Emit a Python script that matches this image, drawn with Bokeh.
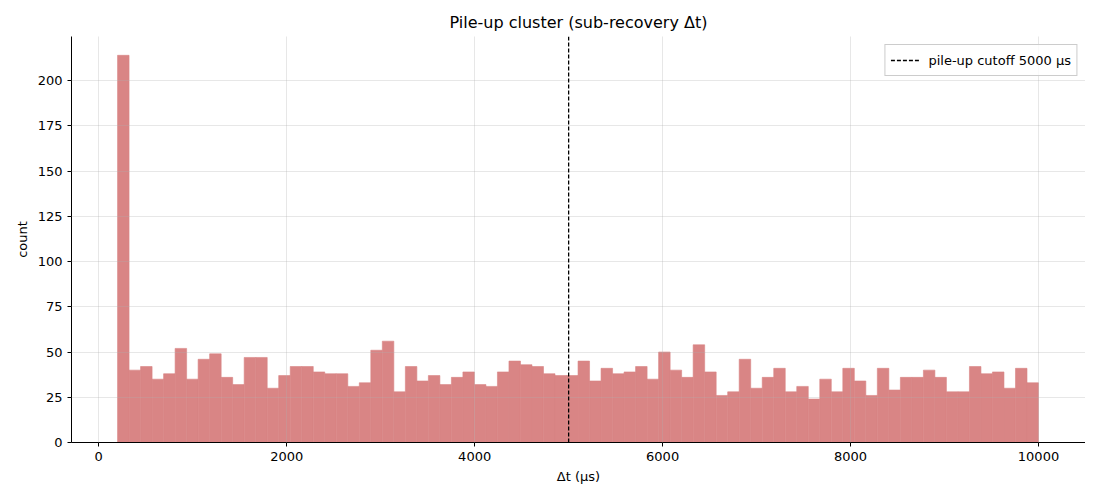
from bokeh.plotting import figure
from bokeh.models import ColumnDataSource, Span, Legend, LegendItem, Range1d, FixedTicker
from bokeh.embed import file_html
from bokeh.resources import INLINE

bin_start = 200.0
bin_width = 122.5
counts = [214, 40, 42, 35, 38, 52, 35, 46, 49, 36, 32, 47, 47, 30, 37, 42, 42, 39, 38, 38,
          31, 33, 51, 56, 28, 42, 34, 37, 32, 36, 39, 32, 31, 39, 45, 43, 42, 38, 37, 37,
          45, 34, 41, 38, 39, 42, 35, 50, 40, 36, 54, 39, 26, 28, 46, 30, 36, 41, 28, 31,
          24, 35, 28, 41, 34, 26, 41, 29, 36, 36, 40, 36, 28, 28, 42, 38, 39, 30, 41, 33]
cutoff = 5000
x_ticks = [0, 2000, 4000, 6000, 8000, 10000]
y_ticks = [0, 25, 50, 75, 100, 125, 150, 175, 200]

lefts = [bin_start + i * bin_width for i in range(len(counts))]
rights = [l + bin_width for l in lefts]
src = ColumnDataSource(dict(left=lefts, right=rights, top=counts, bottom=[0] * len(counts)))

FONT = "DejaVu Sans"
BAR = "#d98585"
p = figure(width=1085, height=492, output_backend="svg", toolbar_location=None,
           x_range=Range1d(-290, 10500), y_range=Range1d(0, 224.4),
           title="Pile-up cluster (sub-recovery Δt)",
           min_border_left=71, min_border_right=0, min_border_top=36, min_border_bottom=50)
p.title.align = "center"
p.title.text_font = FONT
p.title.text_font_size = "16px"
p.title.text_font_style = "normal"
p.title.text_color = "black"
p.outline_line_color = None

p.quad(left="left", right="right", top="top", bottom="bottom", source=src,
       fill_color=BAR, fill_alpha=1.0, line_color=BAR, line_width=0.6)

span = Span(location=cutoff, dimension="height", line_color="black", line_dash="4 2", line_width=1.3)
p.add_layout(span)
leg_r = p.line([cutoff, cutoff], [0, 0], line_color="black", line_dash="4 2", line_width=1.3)
legend = Legend(items=[LegendItem(label="pile-up cutoff 5000 µs", renderers=[leg_r])],
                location="top_right")
legend.label_text_font = FONT
legend.label_text_font_size = "13px"
legend.label_text_color = "black"
legend.border_line_color = "#cccccc"
legend.border_line_alpha = 1
legend.background_fill_alpha = 0.8
legend.glyph_width = 30
legend.margin = 8
legend.padding = 5
legend.label_standoff = 8
p.add_layout(legend)

for ax in (p.xaxis[0], p.yaxis[0]):
    ax.axis_line_color = "black"
    ax.major_tick_line_color = "black"
    ax.minor_tick_line_color = None
    ax.major_tick_out = 4
    ax.major_tick_in = 0
    ax.major_label_text_font = FONT
    ax.major_label_text_font_size = "13px"
    ax.major_label_text_color = "black"
    ax.axis_label_text_font = FONT
    ax.axis_label_text_font_size = "13px"
    ax.axis_label_text_font_style = "normal"
    ax.axis_label_text_color = "black"

p.xaxis.ticker = FixedTicker(ticks=x_ticks)
p.yaxis.ticker = FixedTicker(ticks=y_ticks)
p.xaxis.axis_label = "Δt (µs)"
p.yaxis.axis_label = "count"

for g in (p.xgrid[0], p.ygrid[0]):
    g.grid_line_color = "#b0b0b0"
    g.grid_line_alpha = 0.3
    g.level = "annotation"
p.xgrid.ticker = FixedTicker(ticks=x_ticks)
p.ygrid.ticker = FixedTicker(ticks=y_ticks)

open("out.html", "w").write(file_html(p, INLINE))
